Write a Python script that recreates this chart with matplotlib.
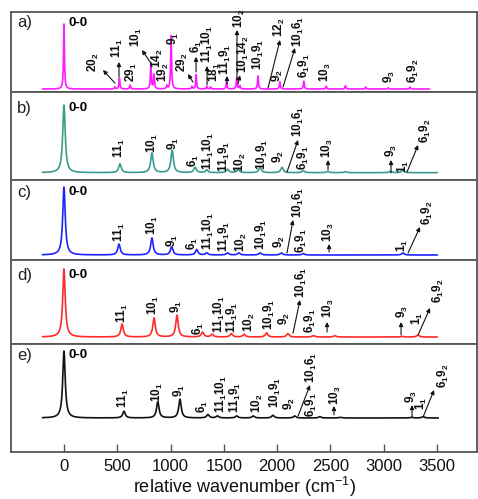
import numpy as np
import matplotlib
matplotlib.use("Agg")
import matplotlib.pyplot as plt
from matplotlib.transforms import blended_transform_factory

plt.rcParams['font.family'] = ['Liberation Sans', 'DejaVu Sans']
plt.rcParams['mathtext.fontset'] = 'custom'
plt.rcParams['mathtext.rm'] = 'Liberation Sans'
plt.rcParams['mathtext.bf'] = 'Liberation Sans:bold'
plt.rcParams['mathtext.default'] = 'bf'

# ---------------- data (peak positions in cm-1, relative intensities) ----------------
panel_names = ["a)", "b)", "c)", "d)", "e)"]
colors = ["#ff1aff", "#3a9c8c", "#2222ff", "#ff2a2a", "#111111"]

pos_a = [0, 478, 520, 620, 815, 845, 965, 1005, 1200, 1240, 1340, 1375, 1525, 1620, 1650,
         1820, 2025, 2250, 2460, 2640, 2830, 3040, 3245]
int_a = [1.0, 0.03, 0.17, 0.06, 0.40, 0.22, 0.05, 0.82, 0.04, 0.22, 0.04, 0.03, 0.11, 0.17, 0.05,
         0.20, 0.11, 0.12, 0.04, 0.05, 0.03, 0.02, 0.03]

pos_b = [0, 525, 825, 1015, 1230, 1340, 1535, 1635, 1840, 2045, 2245, 2475, 2640, 3060, 3180]
int_b = [1.0, 0.13, 0.29, 0.33, 0.08, 0.04, 0.05, 0.05, 0.08, 0.08, 0.03, 0.02, 0.015, 0.02, 0.04]

pos_c = [0, 516, 825, 1010, 1245, 1340, 1535, 1640, 1840, 2040, 2245, 3180]
int_c = [1.0, 0.16, 0.25, 0.12, 0.08, 0.03, 0.03, 0.03, 0.03, 0.03, 0.02, 0.03]

pos_d = [0, 545, 845, 1060, 1300, 1390, 1570, 1690, 1900, 2100, 2340, 2540, 3170, 3320]
int_d = [1.0, 0.19, 0.28, 0.32, 0.07, 0.04, 0.05, 0.04, 0.06, 0.05, 0.02, 0.02, 0.01, 0.03]

pos_e = [0, 563, 880, 1088, 1350, 1440, 1620, 1775, 1960, 2165, 2400, 2590, 3260, 3370]
int_e = [1.0, 0.10, 0.24, 0.28, 0.05, 0.03, 0.03, 0.03, 0.04, 0.03, 0.02, 0.01, 0.01, 0.02]

positions = [pos_a, pos_b, pos_c, pos_d, pos_e]
intensities = [int_a, int_b, int_c, int_d, int_e]
widths = [5, 14, 14, 14, 14]          # Lorentzian HWHM
x_end = [3425, 3500, 3500, 3500, 3510]

# labels: (text, x_data, y_axesfrac_bottom, arrow (tail_x, tail_y, head_x, head_y) or None)
labels_a = [
    (r"$20_2$", 281, 0.25, (479, 0.11, 366, 0.275)),
    (r"$11_1$", 497, 0.425, (516, 0.19, 516, 0.375)),
    (r"$29_1$", 629, 0.125, None),
    (r"$10_1$", 676, 0.56, (826, 0.34, 732, 0.525)),
    (r"$14_2$", 873, 0.30, None),
    (r"$19_2$", 929, 0.125, None),
    (r"$9_1$", 1023, 0.59, None),
    (r"$29_2$", 1107, 0.25, (1210, 0.125, 1163, 0.225)),
    (r"$6_1$", 1239, 0.49, (1239, 0.25, 1239, 0.44)),
    (r"$11_{1}10_{1}$", 1342, 0.36, (1342, 0.09, 1342, 0.325)),
    (r"$18_1$", 1407, 0.125, None),
    (r"$11_{1}9_{1}$", 1511, 0.21, (1529, 0.10, 1529, 0.20)),
    (r"$10_2$", 1642, 0.80, (1623, 0.15, 1623, 0.775)),
    (r"$10_{1}14_{2}$", 1680, 0.24, (1633, 0.10, 1651, 0.21)),
    (r"$10_{1}9_{1}$", 1820, 0.275, None),
    (r"$12_2$", 2017, 0.6875, (1914, 0.05, 2027, 0.65)),
    (r"$9_2$", 1999, 0.125, None),
    (r"$10_{1}6_{1}$", 2196, 0.5625, (2055, 0.0625, 2167, 0.55)),
    (r"$6_{1}9_{1}$", 2252, 0.175, None),
    (r"$10_3$", 2449, 0.125, None),
    (r"$9_3$", 3049, 0.1125, None),
    (r"$6_{1}9_{2}$", 3275, 0.1125, None),
]
labels_b = [
    (r"$11_1$", 525, 0.25, None),
    (r"$10_1$", 826, 0.307, None),
    (r"$9_1$", 1023, 0.341, None),
    (r"$6_1$", 1210, 0.148, None),
    (r"$11_{1}10_{1}$", 1351, 0.114, None),
    (r"$11_{1}9_{1}$", 1501, 0.091, None),
    (r"$10_2$", 1651, 0.091, None),
    (r"$10_{1}9_{1}$", 1858, 0.114, None),
    (r"$9_2$", 2008, 0.193, None),
    (r"$10_{1}6_{1}$", 2196, 0.489, (2092, 0.091, 2196, 0.455)),
    (r"$6_{1}9_{1}$", 2243, 0.114, None),
    (r"$10_3$", 2468, 0.25, (2477, 0.114, 2477, 0.227)),
    (r"$9_3$", 3068, 0.261, (3068, 0.08, 3068, 0.227)),
    (r"$1_1$", 3181, 0.08, None),
    (r"$6_{1}9_{2}$", 3387, 0.42, (3218, 0.091, 3322, 0.398)),
]
labels_c = [
    (r"$11_1$", 516, 0.225, None),
    (r"$10_1$", 826, 0.3125, None),
    (r"$9_1$", 1013, 0.1625, None),
    (r"$6_1$", 1201, 0.125, None),
    (r"$11_{1}10_{1}$", 1351, 0.125, None),
    (r"$11_{1}9_{1}$", 1501, 0.10, None),
    (r"$10_2$", 1661, 0.10, None),
    (r"$10_{1}9_{1}$", 1848, 0.125, None),
    (r"$9_2$", 2017, 0.15, None),
    (r"$10_{1}6_{1}$", 2196, 0.525, (2092, 0.0875, 2149, 0.50)),
    (r"$6_{1}9_{1}$", 2224, 0.0875, None),
    (r"$10_3$", 2477, 0.225, (2487, 0.10, 2487, 0.20)),
    (r"$1_1$", 3171, 0.10, None),
    (r"$6_{1}9_{2}$", 3406, 0.4375, (3228, 0.0875, 3340, 0.4125)),
]
labels_d = [
    (r"$11_1$", 544, 0.25, None),
    (r"$10_1$", 844, 0.345, None),
    (r"$9_1$", 1051, 0.369, None),
    (r"$6_1$", 1257, 0.107, None),
    (r"$11_{1}10_{1}$", 1454, 0.131, None),
    (r"$11_{1}9_{1}$", 1576, 0.131, None),
    (r"$10_2$", 1736, 0.143, None),
    (r"$10_{1}9_{1}$", 1924, 0.167, None),
    (r"$9_2$", 2064, 0.226, None),
    (r"$10_{1}6_{1}$", 2224, 0.548, (2149, 0.131, 2214, 0.524)),
    (r"$6_{1}9_{1}$", 2308, 0.131, None),
    (r"$10_3$", 2477, 0.31, (2468, 0.143, 2468, 0.262)),
    (r"$9_3$", 3171, 0.31, (3162, 0.107, 3162, 0.262)),
    (r"$1_1$", 3312, 0.226, None),
    (r"$6_{1}9_{2}$", 3509, 0.488, (3322, 0.107, 3434, 0.429)),
]
labels_e = [
    (r"$11_1$", 554, 0.407, None),
    (r"$10_1$", 873, 0.463, None),
    (r"$9_1$", 1079, 0.509, None),
    (r"$6_1$", 1295, 0.361, None),
    (r"$11_{1}10_{1}$", 1473, 0.361, None),
    (r"$11_{1}9_{1}$", 1604, 0.361, None),
    (r"$10_2$", 1811, 0.361, None),
    (r"$10_{1}9_{1}$", 1980, 0.407, None),
    (r"$9_2$", 2111, 0.389, None),
    (r"$10_{1}6_{1}$", 2318, 0.639, (2196, 0.333, 2308, 0.62)),
    (r"$6_{1}9_{1}$", 2318, 0.324, None),
    (r"$10_3$", 2543, 0.435, (2533, 0.343, 2533, 0.426)),
    (r"$9_3$", 3256, 0.454, (3265, 0.324, 3265, 0.435)),
    (r"$1_1$", 3350, 0.389, None),
    (r"$6_{1}9_{2}$", 3556, 0.593, (3369, 0.324, 3472, 0.574)),
]
all_labels = [labels_a, labels_b, labels_c, labels_d, labels_e]

# layout: baseline and 0-0 peak top as axes fractions, 0-0 label y
base_frac = [0.0375, 0.083, 0.0625, 0.083, 0.315]
peak_frac = [0.85, 0.852, 0.9125, 0.893, 0.935]
zero_label_y = [0.8625, 0.818, 0.85, 0.82, 0.898]
height_ratios = [80, 88, 80, 84, 108]

xticks = [0, 500, 1000, 1500, 2000, 2500, 3000, 3500]

# ---------------- figure ----------------
fig = plt.figure(figsize=(4.78, 4.99), dpi=100)
gs = fig.add_gridspec(5, 1, height_ratios=height_ratios, hspace=0,
                      left=0.023, right=0.998, top=1 - 12 / 499, bottom=1 - 452 / 499)

for i in range(5):
    ax = fig.add_subplot(gs[i])
    x = np.linspace(-200, x_end[i], 6000)
    y = np.zeros_like(x)
    g = widths[i]
    for p, a in zip(positions[i], intensities[i]):
        y += a * g**2 / ((x - p)**2 + g**2)
    y0 = sum(a * g**2 / ((0 - p)**2 + g**2) for p, a in zip(positions[i], intensities[i]))
    y = y / y0
    ax.plot(x, y, color=colors[i], lw=1.2)

    s = peak_frac[i] - base_frac[i]
    ax.set_ylim(-base_frac[i] / s, (1 - base_frac[i]) / s)
    ax.set_xlim(-497, 3875)
    ax.set_yticks([])
    for sp in ax.spines.values():
        sp.set_color("#555555")
        sp.set_linewidth(1.3)

    tr = blended_transform_factory(ax.transData, ax.transAxes)
    ax.text(0.013, zero_label_y[i], panel_names[i], transform=ax.transAxes,
            fontsize=12, va='center', ha='left', color='#222222')
    ax.text(45, zero_label_y[i], "0-0", transform=tr, fontsize=9.5,
            fontweight='bold', va='center', ha='left')
    for txt, lx, ly, arr in all_labels[i]:
        ax.text(lx, ly, txt, transform=tr, rotation=90, ha='center', va='bottom',
                fontsize=8.5, color='#111111')
        if arr is not None:
            tx, ty, hx, hy = arr
            ax.annotate('', xy=(hx, hy), xytext=(tx, ty), xycoords=tr, textcoords=tr,
                        arrowprops=dict(arrowstyle='-|>', lw=0.8, color='#111111',
                                        mutation_scale=6, shrinkA=0, shrinkB=0))

    if i < 4:
        ax.set_xticks([])
    else:
        ax.set_xticks(xticks)
        ax.tick_params(axis='x', direction='in', length=6, width=1, colors='#555555',
                       labelsize=12, labelcolor='#111111', pad=5)
        ax.set_xlabel("relative wavenumber (cm$^{\\mathregular{-1}}$)", fontsize=13,
                      color='#111111', labelpad=1)

fig.savefig("out.png", dpi=100)
